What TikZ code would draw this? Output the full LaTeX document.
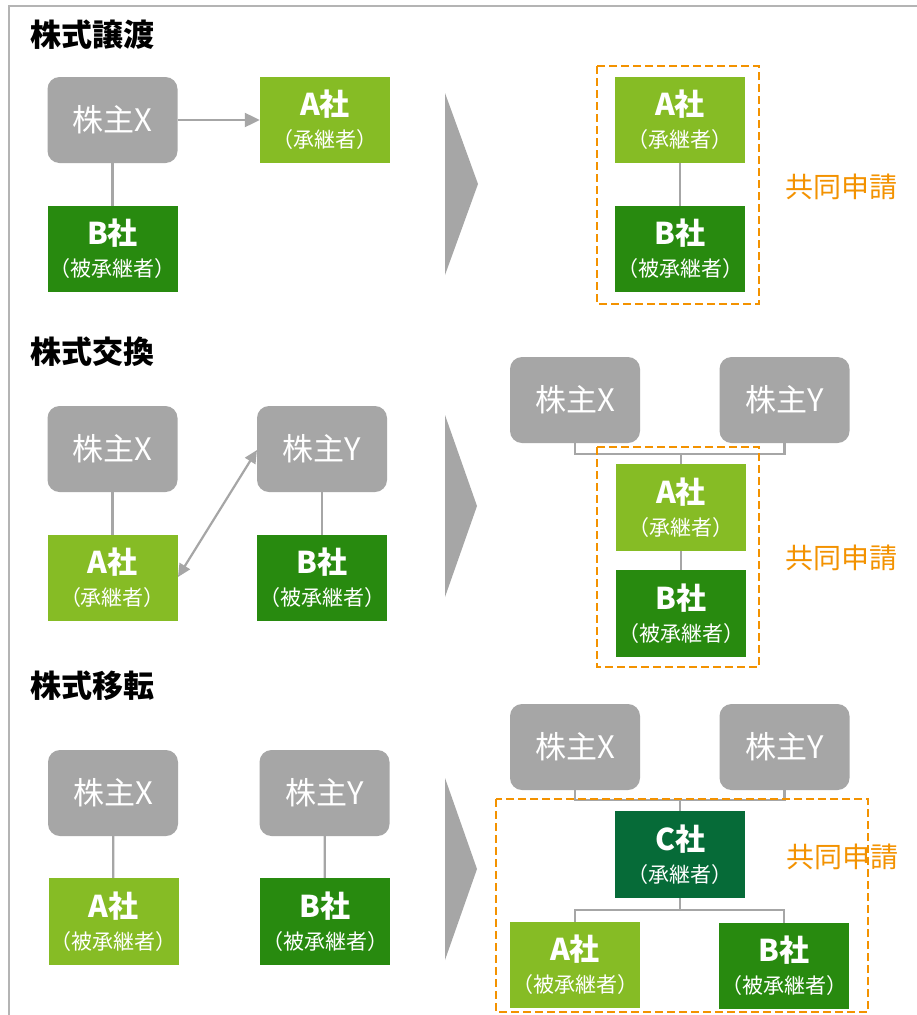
\documentclass[tikz,border=0pt]{standalone}
\usepackage{fontspec}
\setmainfont{Noto Sans CJK JP}
\usetikzlibrary{arrows.meta}
\definecolor{boxgray}{HTML}{A6A6A6}
\definecolor{lgreen}{HTML}{86BC25}
\definecolor{dgreen}{HTML}{288A0F}
\definecolor{cgreen}{HTML}{066B38}
\definecolor{orng}{HTML}{F39200}
\definecolor{framegray}{HTML}{B4B4B4}
\begin{document}
\begin{tikzpicture}[x=1pt,y=-1pt,
  holder/.style={rectangle,rounded corners=12pt,fill=boxgray,text=white,minimum width=130pt,minimum height=86pt,inner sep=0pt,font=\fontsize{31}{34}\selectfont},
  corp/.style={rectangle,text=white,text width=130pt,minimum width=130pt,minimum height=86pt,inner sep=0pt,align=center,font=\fontsize{21}{32}\selectfont},
  lg/.style={corp,fill=lgreen},
  dg/.style={corp,fill=dgreen},
  cg/.style={corp,fill=cgreen},
  ttl/.style={anchor=west,font=\fontsize{31}{34}\bfseries\selectfont},
  joint/.style={text=orng,font=\fontsize{28}{32}\selectfont},
  conn/.style={draw=boxgray,line width=2.2pt},
  arr/.style={conn,-{Triangle[length=15pt,width=14pt]}},
  darr/.style={conn,{Triangle[length=13pt,width=12pt]}-{Triangle[length=13pt,width=12pt]}},
  dbox/.style={draw=orng,line width=2.6pt,dash pattern=on 8pt off 4pt},
  chev/.style={fill=boxgray,draw=none}
]
\newcommand{\corpname}[2]{{\fontsize{30}{32}\bfseries\selectfont #1}\\#2}
\useasboundingbox (0,0) rectangle (916,1015);
\fill[white] (0,0) rectangle (916,1015);
\draw[framegray,line width=2pt] (9,1016) -- (9,6) -- (917,6);

% ---------- Section 1 ----------
\node[ttl] (t1) at (27,35) {株式譲渡};
\node[holder] (s1x) at (112.5,120) {株主X};
\node[lg] (s1a) at (325,120) {\corpname{A社}{（承継者）}};
\node[dg] (s1b) at (112.5,249) {\corpname{B社}{（被承継者）}};
\draw[arr] (s1x) -- (s1a);
\draw[conn] (s1x) -- (s1b);
\fill[chev] (445,93) -- (478,184) -- (445,275) -- cycle;
\node[lg] (r1a) at (680,120) {\corpname{A社}{（承継者）}};
\node[dg] (r1b) at (680,249) {\corpname{B社}{（被承継者）}};
\draw[conn] (r1a) -- (r1b);
\draw[dbox] (597,66) rectangle (759,304);
\node[joint] (j1) at (841,187) {共同申請};

% ---------- Section 2 ----------
\node[ttl] (t2) at (27,352) {株式交換};
\node[holder] (s2x) at (112.5,449) {株主X};
\node[holder] (s2y) at (322,449) {株主Y};
\node[lg] (s2a) at (112.5,578) {\corpname{A社}{（承継者）}};
\node[dg] (s2b) at (322,578) {\corpname{B社}{（被承継者）}};
\draw[conn] (s2x) -- (s2a);
\draw[conn] (s2y) -- (s2b);
\coordinate (e2a) at (178,577);
\coordinate (e2y) at (257,450);
\draw[darr] (e2a) -- (e2y);
\fill[chev] (445,415) -- (477,506) -- (445,597) -- cycle;
\node[holder] (r2x) at (575,400) {株主X};
\node[holder] (r2y) at (784.5,400) {株主Y};
\node[lg,minimum height=87pt] (r2a) at (681,507.5) {\corpname{A社}{（承継者）}};
\node[dg,minimum height=87pt] (r2b) at (681,613.5) {\corpname{B社}{（被承継者）}};
\draw[conn] (r2x.south) |- (r2a.north |- 0,454) -| (r2y.south);
\draw[conn] (r2a.north |- 0,454) -- (r2a.north);
\draw[conn] (r2a) -- (r2b);
\draw[dbox] (597,447) rectangle (759,667);
\node[joint] (j2) at (841,558) {共同申請};

% ---------- Section 3 ----------
\node[ttl] (t3) at (27,686) {株式移転};
\node[holder] (s3x) at (113,793) {株主X};
\node[holder] (s3y) at (324.5,793) {株主Y};
\node[lg,minimum height=87pt] (s3a) at (113.5,921.5) {\corpname{A社}{（被承継者）}};
\node[dg,minimum height=87pt] (s3b) at (325,921.5) {\corpname{B社}{（被承継者）}};
\draw[conn] (s3x) -- (s3a);
\draw[conn] (s3y) -- (s3b);
\fill[chev] (445,778) -- (477,869) -- (445,960) -- cycle;
\node[holder] (r3x) at (575,747) {株主X};
\node[holder] (r3y) at (784.5,747) {株主Y};
\node[cg,minimum height=87pt] (r3c) at (680,854.5) {\corpname{C社}{（承継者）}};
\node[lg] (r3a) at (575,965) {\corpname{A社}{（被承継者）}};
\node[dg] (r3b) at (784,966) {\corpname{B社}{（被承継者）}};
\draw[conn] (r3x.south) |- (r3c.north |- 0,800) -| (r3y.south);
\draw[conn] (r3c.north |- 0,800) -- (r3c.north);
\draw[conn] (r3a.north) |- (r3c.south |- 0,910) -| (r3b.north);
\draw[conn] (r3c.south |- 0,910) -- (r3c.south);
\draw[dbox] (496,799) rectangle (868,1012);
\node[joint] (j3) at (842,857) {共同申請};
\end{tikzpicture}
\end{document}
